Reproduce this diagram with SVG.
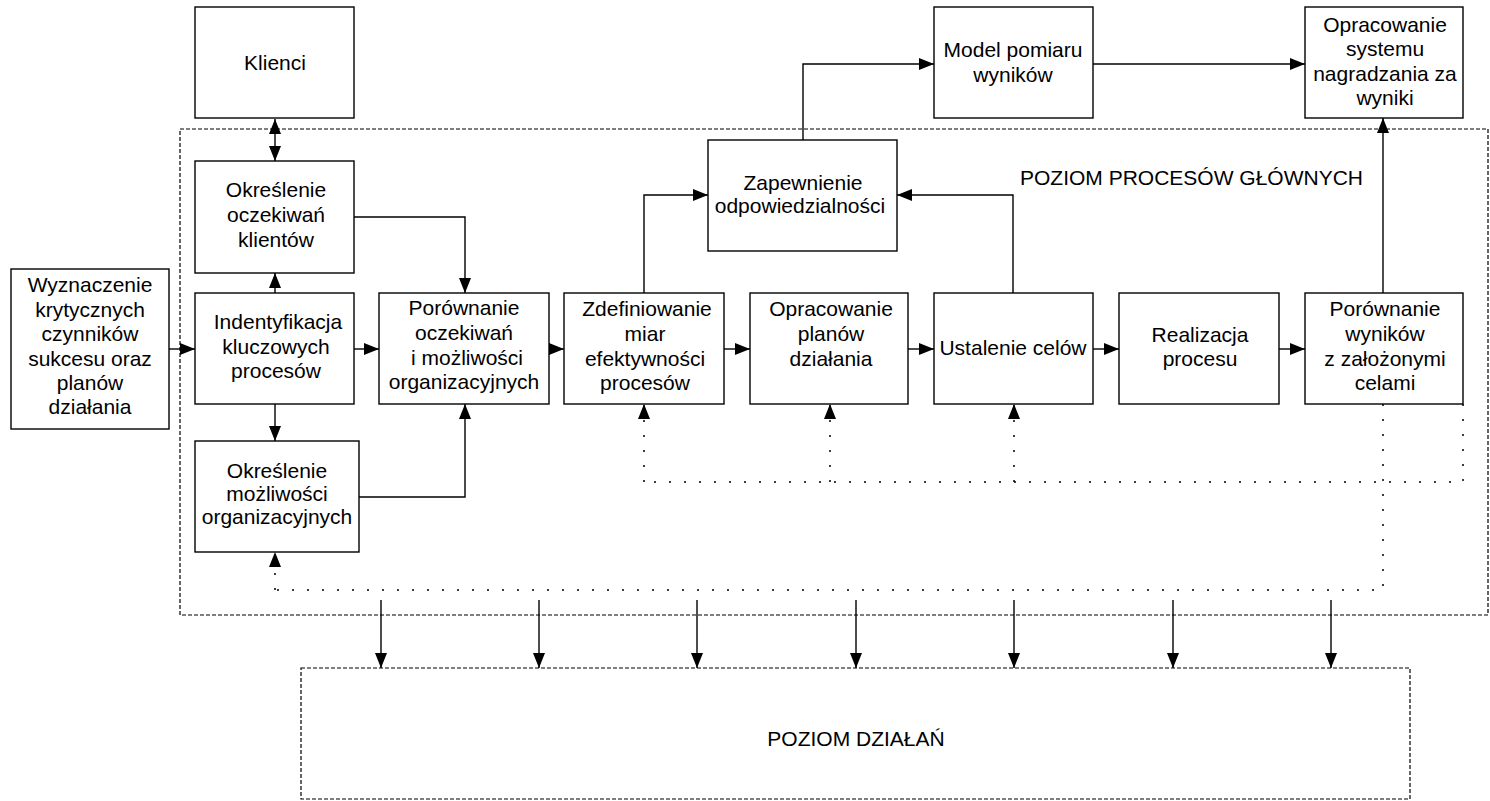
<svg xmlns="http://www.w3.org/2000/svg" width="1490" height="801" viewBox="0 0 1490 801">
  <style>
    .box { fill: #fff; stroke: #000; stroke-width: 1.4; }
    .zone { fill: none; stroke: #000; stroke-width: 1.2; stroke-dasharray: 4 2; }
    .lbl { font-family: "Liberation Sans", Arial, sans-serif; font-size: 21px; fill: #000; text-anchor: middle; }
    .title { font-family: "Liberation Sans", Arial, sans-serif; font-size: 21px; fill: #000; }
    .link { fill: none; stroke: #000; stroke-width: 1.4; }
    .dot { fill: none; stroke: #000; stroke-width: 1.5; stroke-dasharray: 2 13; }
  </style>
  <defs>
    <marker id="arrow" markerUnits="userSpaceOnUse" markerWidth="16" markerHeight="13" refX="15" refY="6" orient="auto-start-reverse">
      <path d="M0,0 L15,6 L0,12 z" fill="#000"/>
    </marker>
  </defs>

  <!-- level frames -->
  <g id="zones">
    <rect class="zone" x="180" y="129" width="1308" height="486"/>
    <text class="title" x="1020" y="185">POZIOM PROCESÓW GŁÓWNYCH</text>
    <rect class="zone" x="301" y="668" width="1109" height="131"/>
    <text class="lbl" x="856" y="746">POZIOM DZIAŁAŃ</text>
  </g>

  <!-- connectors -->
  <g id="connectors">
    <path class="link" d="M275,119 V161" marker-start="url(#arrow)" marker-end="url(#arrow)"/>
    <path class="link" d="M275,293 V273" marker-end="url(#arrow)"/>
    <path class="link" d="M275,404 V441" marker-end="url(#arrow)"/>
    <path class="link" d="M354,217 H465 V293" marker-end="url(#arrow)"/>
    <path class="link" d="M359,497 H465 V404" marker-end="url(#arrow)"/>
    <path class="link" d="M169,349 H195" marker-end="url(#arrow)"/>
    <path class="link" d="M354,349 H379" marker-end="url(#arrow)"/>
    <path class="link" d="M549,349 H564" marker-end="url(#arrow)"/>
    <path class="link" d="M724,349 H750" marker-end="url(#arrow)"/>
    <path class="link" d="M908,349 H934" marker-end="url(#arrow)"/>
    <path class="link" d="M1093,349 H1119" marker-end="url(#arrow)"/>
    <path class="link" d="M1279,349 H1305" marker-end="url(#arrow)"/>
    <path class="link" d="M644,293 V195 H708" marker-end="url(#arrow)"/>
    <path class="link" d="M1013,293 V195 H897" marker-end="url(#arrow)"/>
    <path class="link" d="M803,140 V64 H934" marker-end="url(#arrow)"/>
    <path class="link" d="M1093,64 H1305" marker-end="url(#arrow)"/>
    <path class="link" d="M1383,293 V118" marker-end="url(#arrow)"/>
    <!-- feedback loops (dotted) -->
    <path class="dot" d="M1383,404 V590 H275"/>
    <path class="dot" d="M275,590 V552" marker-end="url(#arrow)"/>
    <path class="dot" d="M1463,404 V482 H644"/>
    <path class="dot" d="M644,482 V404" marker-end="url(#arrow)"/>
    <path class="dot" d="M830,482 V404" marker-end="url(#arrow)"/>
    <path class="dot" d="M1014,482 V404" marker-end="url(#arrow)"/>
    <!-- down to activity level -->
    <path class="link" d="M381,600 V668" marker-end="url(#arrow)"/>
    <path class="link" d="M539,600 V668" marker-end="url(#arrow)"/>
    <path class="link" d="M697,600 V668" marker-end="url(#arrow)"/>
    <path class="link" d="M856,600 V668" marker-end="url(#arrow)"/>
    <path class="link" d="M1014,600 V668" marker-end="url(#arrow)"/>
    <path class="link" d="M1173,600 V668" marker-end="url(#arrow)"/>
    <path class="link" d="M1331,600 V668" marker-end="url(#arrow)"/>
  </g>

  <g id="klienci">
    <rect class="box" x="195" y="7" width="159" height="111"/>
    <text class="lbl" x="275" y="70">Klienci</text>
  </g>
  <g id="okreslenie-oczekiwan">
    <rect class="box" x="195" y="161" width="159" height="112"/>
    <text class="lbl" x="276" y="197">Określenie</text>
    <text class="lbl" x="276" y="222">oczekiwań</text>
    <text class="lbl" x="276" y="247">klientów</text>
  </g>
  <g id="wyznaczenie">
    <rect class="box" x="11" y="269" width="158" height="160"/>
    <text class="lbl" x="90" y="292">Wyznaczenie</text>
    <text class="lbl" x="90" y="317">krytycznych</text>
    <text class="lbl" x="90" y="341">czynników</text>
    <text class="lbl" x="90" y="366">sukcesu oraz</text>
    <text class="lbl" x="90" y="390">planów</text>
    <text class="lbl" x="90" y="414">działania</text>
  </g>
  <g id="identyfikacja">
    <rect class="box" x="195" y="293" width="159" height="111"/>
    <text class="lbl" x="278" y="329">Indentyfikacja</text>
    <text class="lbl" x="276" y="354">kluczowych</text>
    <text class="lbl" x="276" y="378">procesów</text>
  </g>
  <g id="okreslenie-mozliwosci">
    <rect class="box" x="195" y="441" width="164" height="111"/>
    <text class="lbl" x="277" y="478">Określenie</text>
    <text class="lbl" x="277" y="501">możliwości</text>
    <text class="lbl" x="277" y="524">organizacyjnych</text>
  </g>
  <g id="porownanie-oczekiwan">
    <rect class="box" x="379" y="293" width="170" height="111"/>
    <text class="lbl" x="464" y="315">Porównanie</text>
    <text class="lbl" x="464" y="340">oczekiwań</text>
    <text class="lbl" x="467" y="365">i możliwości</text>
    <text class="lbl" x="464" y="389">organizacyjnych</text>
  </g>
  <g id="zdefiniowanie">
    <rect class="box" x="564" y="293" width="160" height="111"/>
    <text class="lbl" x="647" y="316">Zdefiniowanie</text>
    <text class="lbl" x="645" y="341">miar</text>
    <text class="lbl" x="645" y="366">efektywności</text>
    <text class="lbl" x="645" y="390">procesów</text>
  </g>
  <g id="opracowanie-planow">
    <rect class="box" x="750" y="293" width="158" height="111"/>
    <text class="lbl" x="831" y="316">Opracowanie</text>
    <text class="lbl" x="831" y="341">planów</text>
    <text class="lbl" x="831" y="366">działania</text>
  </g>
  <g id="ustalenie-celow">
    <rect class="box" x="934" y="293" width="159" height="111"/>
    <text class="lbl" x="1013" y="355">Ustalenie celów</text>
  </g>
  <g id="realizacja">
    <rect class="box" x="1119" y="293" width="160" height="111"/>
    <text class="lbl" x="1200" y="342">Realizacja</text>
    <text class="lbl" x="1200" y="366">procesu</text>
  </g>
  <g id="porownanie-wynikow">
    <rect class="box" x="1305" y="293" width="158" height="111"/>
    <text class="lbl" x="1385" y="316">Porównanie</text>
    <text class="lbl" x="1385" y="341">wyników</text>
    <text class="lbl" x="1385" y="366">z założonymi</text>
    <text class="lbl" x="1385" y="390">celami</text>
  </g>
  <g id="zapewnienie">
    <rect class="box" x="708" y="140" width="189" height="111"/>
    <text class="lbl" x="803" y="190">Zapewnienie</text>
    <text class="lbl" x="800" y="213">odpowiedzialności</text>
  </g>
  <g id="model-pomiaru">
    <rect class="box" x="934" y="7" width="159" height="111"/>
    <text class="lbl" x="1013" y="57">Model pomiaru</text>
    <text class="lbl" x="1013" y="82">wyników</text>
  </g>
  <g id="system-nagradzania">
    <rect class="box" x="1305" y="7" width="158" height="111"/>
    <text class="lbl" x="1385" y="32">Opracowanie</text>
    <text class="lbl" x="1385" y="56">systemu</text>
    <text class="lbl" x="1385" y="81">nagradzania za</text>
    <text class="lbl" x="1385" y="105">wyniki</text>
  </g>
</svg>
